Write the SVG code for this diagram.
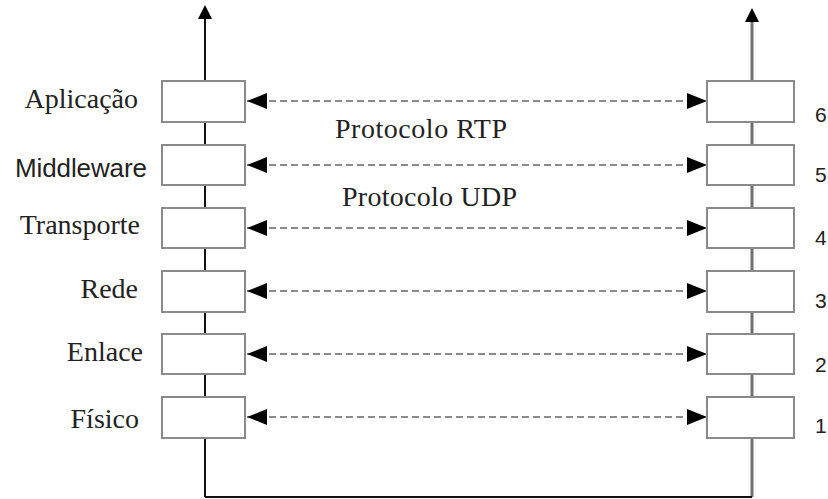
<svg xmlns="http://www.w3.org/2000/svg" width="828" height="499" viewBox="0 0 828 499">
  <style>
    .box { fill: #ffffff; stroke: #8a8a8a; stroke-width: 2; }
    .layer { font-family: "Liberation Serif", Tinos, "Times New Roman", Times, "Nimbus Roman", "Nimbus Roman No9 L", "FreeSerif", "Noto Serif", "DejaVu Serif", serif; font-size: 28px; fill: #222; }
    .sans { font-family: "Liberation Sans", Arial, sans-serif; fill: #222; }
    .num { font-family: "Liberation Sans", Arial, sans-serif; font-size: 21px; fill: #222; }
    .dash { stroke: #8c8c8c; stroke-width: 2; stroke-dasharray: 7 4; fill: none; }
  </style>
  <defs>
    <marker id="headL" viewBox="0 0 20 16" refX="0" refY="8" markerWidth="20" markerHeight="16" markerUnits="userSpaceOnUse" orient="auto">
      <path d="M0,8 L20,0 L20,16 Z" fill="#000"/>
    </marker>
    <marker id="headR" viewBox="0 0 20 16" refX="20" refY="8" markerWidth="20" markerHeight="16" markerUnits="userSpaceOnUse" orient="auto">
      <path d="M0,0 L20,8 L0,16 Z" fill="#000"/>
    </marker>
  </defs>
  <rect width="828" height="499" fill="#ffffff"/>

  <!-- vertical stacks, bottom link and upward arrows -->
  <g id="connectors">
    <path d="M205,497 V18" stroke="#111" stroke-width="2" fill="none"/>
    <path d="M752,497 V22" stroke="#707070" stroke-width="3" fill="none"/>
    <path d="M205,497 H752" stroke="#111" stroke-width="2" fill="none"/>
    <path d="M205,5 L198,19 L212,19 Z" fill="#000"/>
    <path d="M752,8 L745,22 L759,22 Z" fill="#000"/>
    <line class="dash" x1="247" y1="101" x2="707" y2="101" marker-start="url(#headL)" marker-end="url(#headR)"/>
    <line class="dash" x1="247" y1="165" x2="707" y2="165" marker-start="url(#headL)" marker-end="url(#headR)"/>
    <line class="dash" x1="247" y1="228" x2="707" y2="228" marker-start="url(#headL)" marker-end="url(#headR)"/>
    <line class="dash" x1="247" y1="291" x2="707" y2="291" marker-start="url(#headL)" marker-end="url(#headR)"/>
    <line class="dash" x1="247" y1="354" x2="707" y2="354" marker-start="url(#headL)" marker-end="url(#headR)"/>
    <line class="dash" x1="247" y1="417" x2="707" y2="417" marker-start="url(#headL)" marker-end="url(#headR)"/>
    <text class="layer" x="335" y="138" textLength="172">Protocolo RTP</text>
    <text class="layer" x="342" y="206" textLength="175">Protocolo UDP</text>
  </g>

  <!-- left stack -->
  <g id="aplicacao">
    <rect class="box" x="162" y="81" width="83" height="41"/>
    <text class="layer" x="138" y="108" text-anchor="end">Aplicação</text>
  </g>
  <g id="middleware">
    <rect class="box" x="162" y="145" width="83" height="40"/>
    <text class="sans" x="15" y="177" font-size="26" textLength="132">Middleware</text>
  </g>
  <g id="transporte">
    <rect class="box" x="162" y="208" width="83" height="40"/>
    <text class="layer" x="140" y="234" text-anchor="end">Transporte</text>
  </g>
  <g id="rede">
    <rect class="box" x="162" y="271" width="83" height="41"/>
    <text class="layer" x="138" y="298" text-anchor="end">Rede</text>
  </g>
  <g id="enlace">
    <rect class="box" x="162" y="334" width="83" height="40"/>
    <text class="layer" x="143" y="361" text-anchor="end">Enlace</text>
  </g>
  <g id="fisico">
    <rect class="box" x="162" y="397" width="83" height="41"/>
    <text class="layer" x="139" y="428" text-anchor="end">Físico</text>
  </g>

  <!-- right stack -->
  <g id="camada6">
    <rect class="box" x="707" y="81" width="87" height="41"/>
    <text class="num" x="815" y="122">6</text>
  </g>
  <g id="camada5">
    <rect class="box" x="707" y="145" width="87" height="40"/>
    <text class="num" x="815" y="182">5</text>
  </g>
  <g id="camada4">
    <rect class="box" x="707" y="208" width="87" height="40"/>
    <text class="num" x="815" y="245">4</text>
  </g>
  <g id="camada3">
    <rect class="box" x="707" y="271" width="87" height="41"/>
    <text class="num" x="815" y="308">3</text>
  </g>
  <g id="camada2">
    <rect class="box" x="707" y="334" width="87" height="40"/>
    <text class="num" x="815" y="372">2</text>
  </g>
  <g id="camada1">
    <rect class="box" x="707" y="397" width="87" height="41"/>
    <text class="num" x="815" y="433">1</text>
  </g>
</svg>
